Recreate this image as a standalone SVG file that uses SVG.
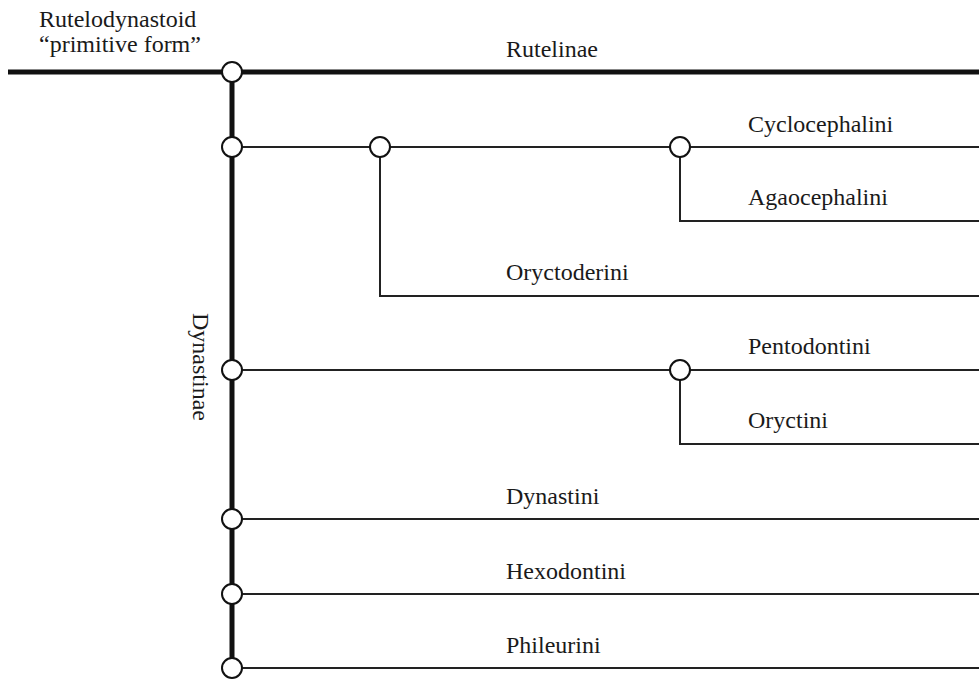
<svg xmlns="http://www.w3.org/2000/svg" width="979" height="679" viewBox="0 0 979 679">
<style>
.thick{stroke:#111;stroke-width:5;fill:none}
.thin{stroke:#222;stroke-width:2;fill:none}
.node circle{fill:#fff;stroke:#111;stroke-width:2}
</style>
<rect width="979" height="679" fill="#fff"/>
<g id="connectors">
<line class="thick" x1="8" y1="72" x2="979" y2="72"/>
<line class="thick" x1="232" y1="72" x2="232" y2="668"/>
<line class="thin" x1="232" y1="147" x2="979" y2="147"/>
<polyline class="thin" points="380,147 380,296 979,296"/>
<polyline class="thin" points="680,147 680,221 979,221"/>
<line class="thin" x1="232" y1="370" x2="979" y2="370"/>
<polyline class="thin" points="680,370 680,444 979,444"/>
<line class="thin" x1="232" y1="519" x2="979" y2="519"/>
<line class="thin" x1="232" y1="594" x2="979" y2="594"/>
<line class="thin" x1="232" y1="668" x2="979" y2="668"/>
</g>
<g id="root" class="node"><circle cx="232" cy="72" r="10"/>
<text x="39" y="27" style="font-family:'Liberation Serif';font-size:24px;fill:#1a1a1a">Rutelodynastoid</text><text x="39" y="52" style="font-family:'Liberation Serif';font-size:24px;fill:#1a1a1a">“primitive form”</text></g>
<g id="rutelinae" class="node"><text x="506" y="57" style="font-family:'Liberation Serif';font-size:24px;fill:#1a1a1a">Rutelinae</text></g>
<g id="dynastinae" class="node"><text transform="translate(193,313) rotate(90)" style="font-family:'Liberation Serif';font-size:24px;fill:#1a1a1a">Dynastinae</text></g>
<g id="n1" class="node"><circle cx="232" cy="147" r="10"/></g>
<g id="n2" class="node"><circle cx="380" cy="147" r="10"/></g>
<g id="n3" class="node"><circle cx="680" cy="147" r="10"/></g>
<g id="cyclocephalini" class="node"><text x="748" y="132" style="font-family:'Liberation Serif';font-size:24px;fill:#1a1a1a">Cyclocephalini</text></g>
<g id="agaocephalini" class="node"><text x="748" y="205" style="font-family:'Liberation Serif';font-size:24px;fill:#1a1a1a">Agaocephalini</text></g>
<g id="oryctoderini" class="node"><text x="506" y="280" style="font-family:'Liberation Serif';font-size:24px;fill:#1a1a1a">Oryctoderini</text></g>
<g id="n4" class="node"><circle cx="232" cy="370" r="10"/></g>
<g id="n5" class="node"><circle cx="680" cy="370" r="10"/></g>
<g id="pentodontini" class="node"><text x="748" y="354" style="font-family:'Liberation Serif';font-size:24px;fill:#1a1a1a">Pentodontini</text></g>
<g id="oryctini" class="node"><text x="748" y="428" style="font-family:'Liberation Serif';font-size:24px;fill:#1a1a1a">Oryctini</text></g>
<g id="n6" class="node"><circle cx="232" cy="519" r="10"/></g>
<g id="dynastini" class="node"><text x="506" y="504" style="font-family:'Liberation Serif';font-size:24px;fill:#1a1a1a">Dynastini</text></g>
<g id="n7" class="node"><circle cx="232" cy="594" r="10"/></g>
<g id="hexodontini" class="node"><text x="506" y="579" style="font-family:'Liberation Serif';font-size:24px;fill:#1a1a1a">Hexodontini</text></g>
<g id="n8" class="node"><circle cx="232" cy="668" r="10"/></g>
<g id="phileurini" class="node"><text x="506" y="653" style="font-family:'Liberation Serif';font-size:24px;fill:#1a1a1a">Phileurini</text></g>
</svg>
